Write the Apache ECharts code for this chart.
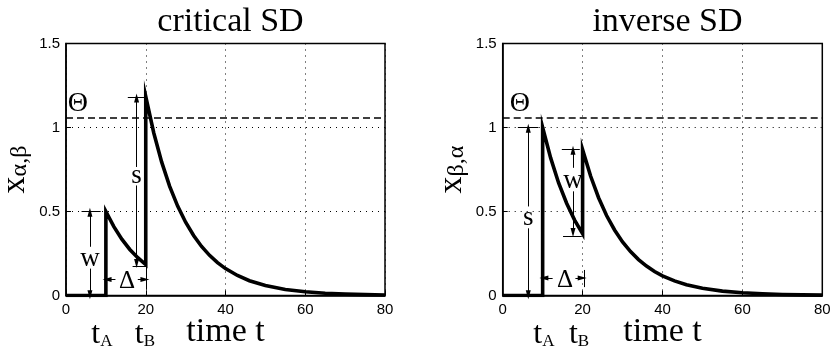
<!DOCTYPE html>
<html>
<head>
<meta charset="utf-8">
<script src="https://cdn.jsdelivr.net/npm/echarts@6/dist/echarts.min.js"></script>
<style>
  html, body { margin: 0; padding: 0; background: #fff; }
  #main { width: 835px; height: 353px; }
</style>
</head>
<body>
<div id="main"></div>
<script>
// time samples (jumps at tA=10 and tB=20 are repeated)
const time = [0, 10, 10, 12, 14, 16, 18, 20, 20, 22, 24, 26, 28, 30, 32, 34, 36, 38, 40, 43, 46, 50, 55, 60, 65, 70, 75, 80];
// x_{alpha,beta}: weak pulse first, strong second
const critical = [0, 0, 0.5, 0.41, 0.335, 0.274, 0.225, 0.184, 1.184, 0.969, 0.794, 0.65, 0.532, 0.436, 0.357, 0.292, 0.239, 0.196, 0.16, 0.119, 0.088, 0.059, 0.036, 0.022, 0.013, 0.008, 0.005, 0.003];
// x_{beta,alpha}: strong pulse first, weak second
const inverse = [0, 0, 1.0, 0.819, 0.67, 0.549, 0.449, 0.368, 0.868, 0.711, 0.582, 0.476, 0.39, 0.319, 0.261, 0.214, 0.175, 0.143, 0.117, 0.087, 0.064, 0.043, 0.026, 0.016, 0.01, 0.006, 0.0035, 0.002];
const threshold = 1.06;
const titles = ['critical SD', 'inverse SD'];
const yNames = ['{x|x}{s|α,β}', '{x|x}{s|β,α}'];

// text annotations [t, value, text]
const notesCritical = [[3.0, 1.14, '{g|Θ}'], [17.7, 0.71, 's'], [6.0, 0.22, 'w'], [15.3, 0.085, '{d|Δ}'], [9.0, -0.23, '{t|t}{s|A}'], [19.8, -0.23, '{t|t}{s|B}']];
const notesInverse = [[4.3, 1.14, '{g|Θ}'], [6.4, 0.46, 's'], [17.6, 0.68, 'w'], [15.6, 0.09, '{d|Δ}'], [10.3, -0.23, '{t|t}{s|A}'], [19.1, -0.23, '{t|t}{s|B}']];

// annotation segments [t1, v1, t2, v2, arrowhead at end]
const marksCritical = [
  [15.5, 1.183, 19.8, 1.183, 0], [17.7, 0.765, 17.7, 1.175, 1], [17.7, 0.655, 17.7, 0.19, 1], [16.7, 0.175, 20.3, 0.175, 0],
  [3.9, 0.5, 8.7, 0.5, 0], [6.0, 0.29, 6.0, 0.495, 1], [6.0, 0.16, 6.0, 0.005, 1],
  [12.4, 0.095, 10.3, 0.095, 1], [18.0, 0.095, 19.8, 0.095, 1], [20.0, 0.035, 20.0, 0.17, 0]
];
const marksInverse = [
  [3.8, 1.0, 8.9, 1.0, 0], [6.4, 0.53, 6.4, 0.995, 1], [6.4, 0.4, 6.4, 0.005, 1],
  [14.8, 0.87, 19.3, 0.87, 0], [17.6, 0.76, 17.6, 0.865, 1], [17.6, 0.62, 17.6, 0.375, 1], [15.1, 0.355, 19.8, 0.355, 0],
  [12.5, 0.104, 10.3, 0.104, 1], [18.2, 0.104, 19.9, 0.104, 1], [20.3, 0.05, 20.3, 0.152, 0]
];

const serif = 'Liberation Serif';
const sans = 'Liberation Sans';
const chart = echarts.init(document.getElementById('main'), null, { renderer: 'canvas' });

const grids = [
  { left: 66, right: 450, top: 43.5, bottom: 57.5 },
  { left: 502.7, right: 12.7, top: 43.5, bottom: 57.5 }
];

function segs(list) {
  return list.map(m => [
    { coord: [m[0], m[1]], symbol: 'none' },
    { coord: [m[2], m[3]], symbol: m[4] ? 'triangle' : 'none', symbolSize: [5, 9] }
  ]);
}

function curve(idx, values, marks) {
  return {
    type: 'line',
    xAxisIndex: idx,
    yAxisIndex: idx,
    data: time.map((t, i) => [t, values[i]]),
    showSymbol: false,
    smooth: false,
    animation: false,
    lineStyle: { color: '#000', width: 3.6, join: 'miter' },
    markLine: {
      silent: true,
      animation: false,
      symbol: 'none',
      symbolSize: [5, 9],
      label: { show: false },
      lineStyle: { color: '#000', width: 1, type: 'solid' },
      itemStyle: { color: '#000' },
      data: [{ yAxis: threshold, lineStyle: { type: [7, 4], width: 1.6 } }].concat(segs(marks))
    }
  };
}

function notes(idx, list) {
  return {
    type: 'scatter',
    xAxisIndex: idx,
    yAxisIndex: idx,
    clip: false,
    silent: true,
    animation: false,
    symbolSize: 0,
    itemStyle: { opacity: 1, color: '#000' },
    data: list,
    label: {
      show: true,
      position: 'inside',
      align: 'center',
      verticalAlign: 'middle',
      color: '#000',
      opacity: 1,
      textBorderWidth: 0,
      fontFamily: serif,
      fontSize: 27,
      formatter: p => p.value[2],
      rich: {
        g: { fontFamily: serif, fontSize: 28, color: '#000' },
        d: { fontFamily: serif, fontSize: 25, color: '#000' },
        t: { fontFamily: serif, fontSize: 32, lineHeight: 32, color: '#000' },
        s: { fontFamily: serif, fontSize: 17, lineHeight: 17, verticalAlign: 'bottom', color: '#000' }
      }
    }
  };
}

const xAxes = [0, 1].map(i => ({
  type: 'value', gridIndex: i, min: 0, max: 80, interval: 20,
  name: 'time t', nameLocation: 'middle', nameGap: 20, nameMoveOverlap: false,
  nameTextStyle: { fontFamily: serif, fontSize: 34, color: '#000' },
  axisLine: { lineStyle: { color: '#000', width: 1.5 } },
  axisTick: { inside: true, length: 5, lineStyle: { color: '#000' } },
  axisLabel: { fontFamily: sans, fontSize: 15, color: '#000', margin: 7 },
  splitLine: { show: true, lineStyle: { color: '#000', type: [1, 5], width: 1 } }
}));

const yAxes = [0, 1].map(i => ({
  type: 'value', gridIndex: i, min: 0, max: 1.5, interval: 0.5,
  name: yNames[i], nameLocation: 'middle', nameRotate: 90, nameGap: 34, nameMoveOverlap: false,
  nameTextStyle: {
    color: '#000',
    rich: {
      x: { fontFamily: serif, fontSize: 34, lineHeight: 34, color: '#000' },
      s: { fontFamily: serif, fontSize: 24, lineHeight: 24, verticalAlign: 'bottom', color: '#000' }
    }
  },
  axisLine: { lineStyle: { color: '#000', width: 1.5 } },
  axisTick: { inside: true, length: 5, lineStyle: { color: '#000' } },
  axisLabel: { fontFamily: sans, fontSize: 15, color: '#000', margin: 6, formatter: v => String(v) },
  splitLine: { show: true, lineStyle: { color: '#000', type: [1, 5], width: 1 } }
}));

chart.setOption({
  backgroundColor: '#fff',
  animation: false,
  title: [0, 1].map(i => ({
    text: titles[i],
    left: i === 0 ? 225.5 : 662.5,
    top: 0,
    textAlign: 'center',
    textStyle: { fontFamily: serif, fontSize: 34, fontWeight: 'normal', color: '#000' }
  })),
  grid: grids.map(g => Object.assign({ show: true, borderColor: '#000', borderWidth: 1.5, backgroundColor: 'transparent', outerBoundsMode: 'none', containLabel: false }, g)),
  xAxis: xAxes,
  yAxis: yAxes,
  series: [
    curve(0, critical, marksCritical),
    curve(1, inverse, marksInverse),
    notes(0, notesCritical),
    notes(1, notesInverse)
  ]
});
</script>
</body>
</html>
